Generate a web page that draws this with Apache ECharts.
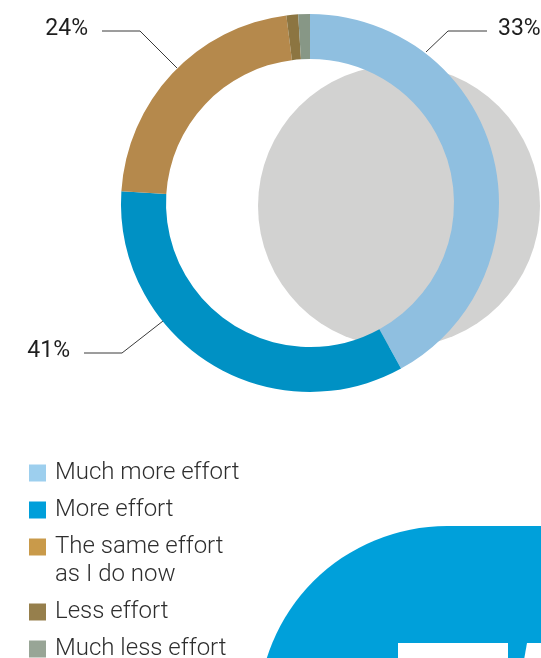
<!DOCTYPE html>
<html>
<head>
<meta charset="utf-8">
<script src="https://cdn.jsdelivr.net/npm/echarts@6/dist/echarts.min.js"></script>
<style>
  html, body { margin: 0; padding: 0; background: #fff; }
  #grafica { width: 541px; height: 658px; }
</style>
</head>
<body>
<div id="grafica"></div>
<script>
const categorias = ["Much more effort", "More effort", "The same effort\nas I do now", "Less effort", "Much less effort"];
// size of each arc as it is drawn in the ring
const valores = [42, 34, 22, 1, 1];
// percentages printed beside the ring
const etiquetas = ["33%", "41%", "24%", "", ""];
const coloresAnillo = ["#8fbfe0", "#0091c4", "#b5894c", "#8c7541", "#879786"];
const coloresLeyenda = ["#9dcfee", "#009fda", "#c99a4a", "#967f4c", "#98a596"];

// leader lines: text anchor + points (ring, elbow, end)
const guias = [
  { x: 498, y: 29, align: "left", pts: [[426, 52], [448, 31], [487, 31]] },
  { x: 70, y: 351, align: "right", pts: [[163, 321], [122, 353], [84, 353]] },
  { x: 88, y: 29, align: "right", pts: [[177, 68], [140, 31], [102, 31]] }
];

const fuente = "Roboto, 'Noto Sans', sans-serif";

const getOptionChart = () => {
  const data = categorias.map((name, i) => ({
    value: valores[i],
    name: name,
    itemStyle: { color: coloresAnillo[i] },
    label: { show: etiquetas[i] !== "" },
    labelLine: { show: etiquetas[i] !== "" }
  }));

  const itemLeyenda = (i) => ({ name: categorias[i], itemStyle: { color: coloresLeyenda[i] } });
  const baseLeyenda = {
    orient: "vertical",
    left: 24,
    itemWidth: 17,
    itemHeight: 17,
    itemGap: 9,
    icon: "rect",
    selectedMode: false,
    textStyle: { fontFamily: fuente, fontSize: 24, fontWeight: 300, color: "#2e2e2e", lineHeight: 28, padding: [0, 0, 0, 4] }
  };

  return {
    animation: false,
    legend: [
      Object.assign({}, baseLeyenda, { top: 454, data: [itemLeyenda(0), itemLeyenda(1)] }),
      Object.assign({}, baseLeyenda, {
        top: 500,
        data: [itemLeyenda(2), itemLeyenda(3), itemLeyenda(4)],
        formatter: (name) => (name.indexOf("\n") >= 0 ? "\n" + name : name)
      })
    ],
    graphic: [
      { type: "circle", z: 0, silent: true, shape: { cx: 399, cy: 206, r: 141 }, style: { fill: "#d2d2d1" } },
      { type: "rect", silent: true, shape: { x: 258, y: 526, width: 400, height: 300, r: [189, 0, 0, 0] }, style: { fill: "#00a0da" } },
      { type: "rect", silent: true, shape: { x: 398, y: 643, width: 110, height: 20 }, style: { fill: "#fff" } },
      { type: "polygon", silent: true, shape: { points: [[527, 643], [545, 643], [545, 660], [524, 660]] }, style: { fill: "#fff" } }
    ],
    series: [
      {
        name: "Effort",
        type: "pie",
        silent: true,
        center: [310, 203],
        radius: [144, 189],
        startAngle: 90,
        clockwise: true,
        avoidLabelOverlap: false,
        label: {
          position: "outside",
          fontFamily: fuente,
          fontSize: 23,
          color: "#1e1e1e",
          formatter: (p) => etiquetas[p.dataIndex]
        },
        labelLine: {
          lineStyle: { color: "#3a3a3a", width: 1 }
        },
        labelLayout: (p) => {
          const g = guias[p.dataIndex];
          if (!g) return {};
          return { x: g.x, y: g.y, align: g.align, verticalAlign: "middle", labelLinePoints: g.pts };
        },
        data: data
      }
    ]
  };
};

const initCharts = () => {
  const chart = echarts.init(document.querySelector("#grafica"));
  chart.setOption(getOptionChart());
};

initCharts();
</script>
</body>
</html>
